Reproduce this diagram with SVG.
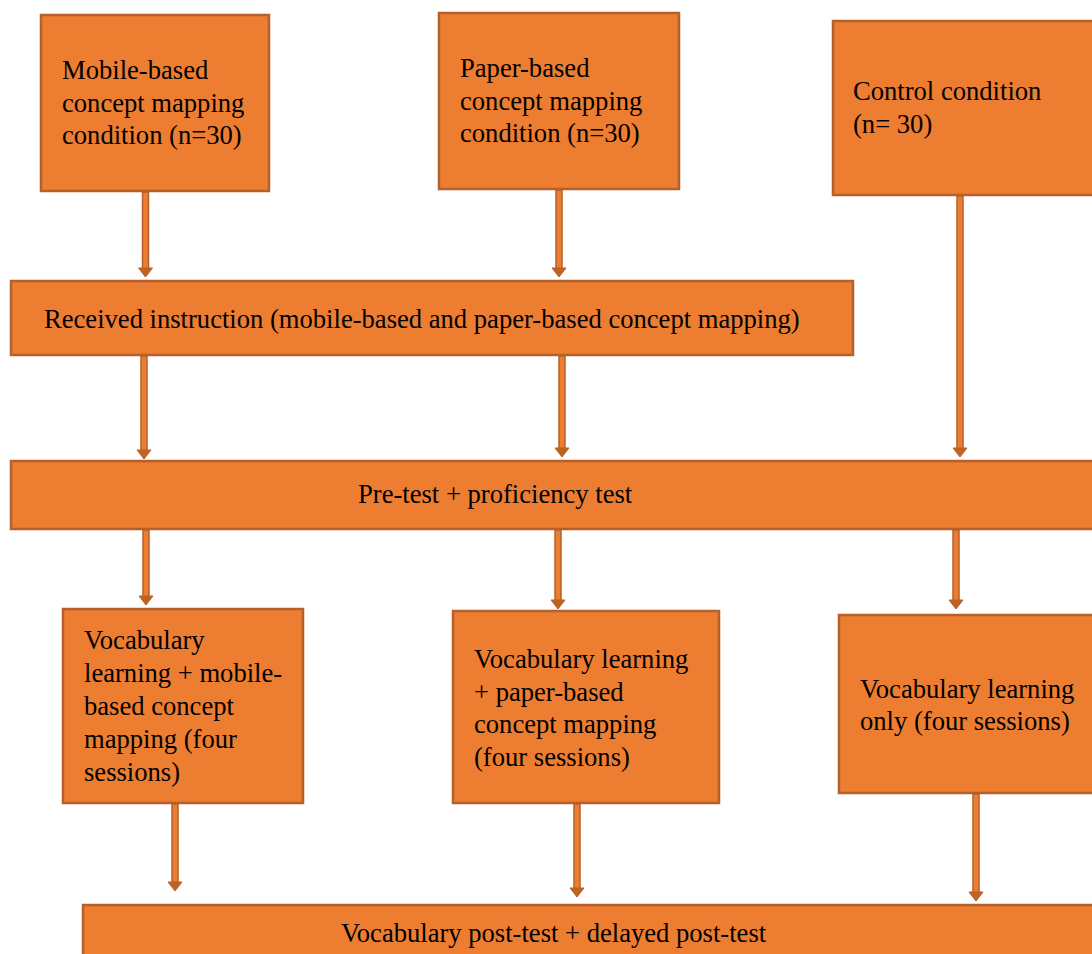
<svg xmlns="http://www.w3.org/2000/svg" width="1092" height="954" viewBox="0 0 1092 954">
<style>
.box{fill:#ED7D31;stroke:#B5602A;stroke-width:2.5}
.t{font-family:"Liberation Serif","Times New Roman",serif;font-size:26.6px;fill:#000}
.shaft{fill:#ED7D31;stroke:#B5602A;stroke-width:1.5}
.head{fill:#C0631F;stroke:#B5602A;stroke-width:1}
</style>
<rect width="1092" height="954" fill="#fff"/>
<g id="connectors">
<defs>
<g id="ah"><polygon class="head" points="-7,-9 7,-9 0,0"/></g>
</defs>
<rect class="shaft" x="142.5" y="192" width="6" height="77"/><use href="#ah" x="145.5" y="277"/>
<rect class="shaft" x="556" y="190" width="6" height="79"/><use href="#ah" x="559" y="277"/>
<rect class="shaft" x="957" y="196" width="6" height="253"/><use href="#ah" x="960" y="457"/>
<rect class="shaft" x="141" y="356" width="6" height="95"/><use href="#ah" x="144" y="459"/>
<rect class="shaft" x="559" y="356" width="6" height="93"/><use href="#ah" x="562" y="457"/>
<rect class="shaft" x="143" y="530" width="6" height="67"/><use href="#ah" x="146" y="605"/>
<rect class="shaft" x="555" y="530" width="6" height="71"/><use href="#ah" x="558" y="609"/>
<rect class="shaft" x="953" y="530" width="6" height="71"/><use href="#ah" x="956" y="609"/>
<rect class="shaft" x="172" y="804" width="6" height="79"/><use href="#ah" x="175" y="891"/>
<rect class="shaft" x="574" y="804" width="6" height="85"/><use href="#ah" x="577" y="897"/>
<rect class="shaft" x="973" y="794" width="6" height="99"/><use href="#ah" x="976" y="901"/>
</g>
<g id="n1"><rect class="box" x="41" y="15" width="228" height="176"/>
<text class="t" x="62" y="79">Mobile-based</text><text class="t" x="62" y="112">concept mapping</text><text class="t" x="62" y="144">condition (n=30)</text></g>
<g id="n2"><rect class="box" x="439" y="13" width="240" height="176"/>
<text class="t" x="460" y="77">Paper-based</text><text class="t" x="460" y="110">concept mapping</text><text class="t" x="460" y="142">condition (n=30)</text></g>
<g id="n3"><rect class="box" x="833" y="21" width="262" height="174"/>
<text class="t" x="853" y="100">Control condition</text><text class="t" x="853" y="133">(n= 30)</text></g>
<g id="n4"><rect class="box" x="11" y="281" width="842" height="74"/>
<text class="t" x="44" y="328">Received instruction (mobile-based and paper-based concept mapping)</text></g>
<g id="n5"><rect class="box" x="11" y="461" width="1084" height="68"/>
<text class="t" x="358" y="503">Pre-test + proficiency test</text></g>
<g id="n6"><rect class="box" x="63" y="609" width="240" height="194"/>
<text class="t" x="84" y="649">Vocabulary</text><text class="t" x="84" y="682">learning + mobile-</text><text class="t" x="84" y="715">based concept</text><text class="t" x="84" y="748">mapping (four</text><text class="t" x="84" y="781">sessions)</text></g>
<g id="n7"><rect class="box" x="453" y="611" width="266" height="192"/>
<text class="t" x="474" y="668">Vocabulary learning</text><text class="t" x="474" y="701">+ paper-based</text><text class="t" x="474" y="733">concept mapping</text><text class="t" x="474" y="766">(four sessions)</text></g>
<g id="n8"><rect class="box" x="839" y="615" width="256" height="178"/>
<text class="t" x="860" y="698">Vocabulary learning</text><text class="t" x="860" y="730">only (four sessions)</text></g>
<g id="n9"><rect class="box" x="83" y="905" width="1012" height="60"/>
<text class="t" x="341" y="942">Vocabulary post-test + delayed post-test</text></g>
</svg>
